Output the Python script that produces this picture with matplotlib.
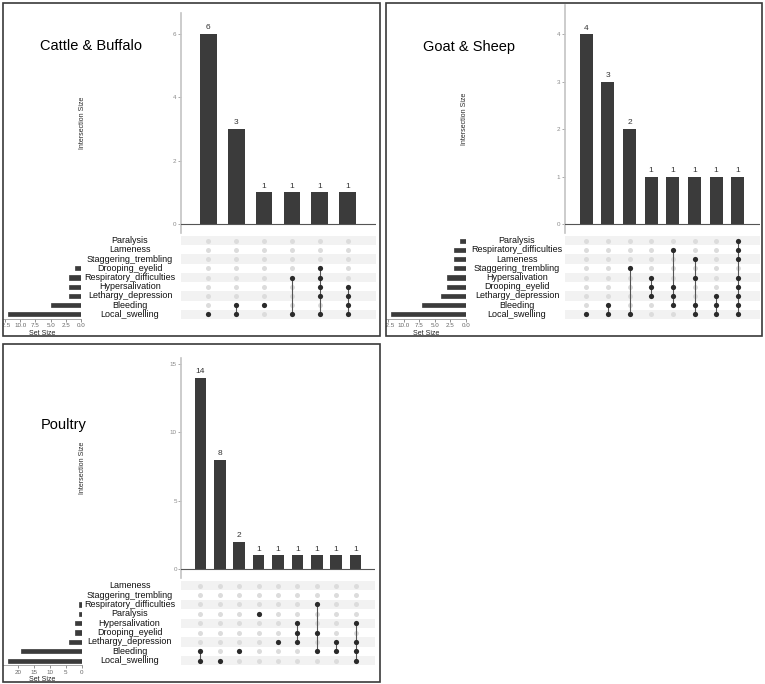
import matplotlib
matplotlib.use("Agg")
import matplotlib.pyplot as plt
from matplotlib.patches import Rectangle
from matplotlib.transforms import Bbox, TransformedBbox, blended_transform_factory

plt.rcParams["font.family"] = ["Liberation Sans", "DejaVu Sans"]

W, H = 765, 684

# ---- datos (conjuntos de arriba hacia abajo) ----
cattle_sets = ["Paralysis", "Lameness", "Staggering_trembling", "Drooping_eyelid",
               "Respiratory_difficulties", "Hypersalivation", "Lethargy_depression",
               "Bleeding", "Local_swelling"]
cattle_set_sizes = [0, 0, 0, 1, 2, 2, 2, 5, 12]
cattle_inter = [6, 3, 1, 1, 1, 1]
cattle_members = [
    ["Local_swelling"],
    ["Bleeding", "Local_swelling"],
    ["Bleeding"],
    ["Respiratory_difficulties", "Local_swelling"],
    ["Drooping_eyelid", "Respiratory_difficulties", "Hypersalivation",
     "Lethargy_depression", "Local_swelling"],
    ["Hypersalivation", "Lethargy_depression", "Bleeding", "Local_swelling"],
]

goat_sets = ["Paralysis", "Respiratory_difficulties", "Lameness", "Staggering_trembling",
             "Hypersalivation", "Drooping_eyelid", "Lethargy_depression",
             "Bleeding", "Local_swelling"]
goat_set_sizes = [1, 2, 2, 2, 3, 3, 4, 7, 12]
goat_inter = [4, 3, 2, 1, 1, 1, 1, 1]
goat_members = [
    ["Local_swelling"],
    ["Bleeding", "Local_swelling"],
    ["Staggering_trembling", "Local_swelling"],
    ["Hypersalivation", "Drooping_eyelid", "Lethargy_depression"],
    ["Respiratory_difficulties", "Drooping_eyelid", "Lethargy_depression", "Bleeding"],
    ["Lameness", "Hypersalivation", "Bleeding", "Local_swelling"],
    ["Lethargy_depression", "Bleeding", "Local_swelling"],
    ["Paralysis", "Respiratory_difficulties", "Lameness", "Hypersalivation",
     "Drooping_eyelid", "Lethargy_depression", "Bleeding", "Local_swelling"],
]

poultry_sets = ["Lameness", "Staggering_trembling", "Respiratory_difficulties", "Paralysis",
                "Hypersalivation", "Drooping_eyelid", "Lethargy_depression",
                "Bleeding", "Local_swelling"]
poultry_set_sizes = [0, 0, 1, 1, 2, 2, 4, 19, 23]
poultry_inter = [14, 8, 2, 1, 1, 1, 1, 1, 1]
poultry_members = [
    ["Bleeding", "Local_swelling"],
    ["Local_swelling"],
    ["Bleeding"],
    ["Paralysis"],
    ["Lethargy_depression"],
    ["Hypersalivation", "Drooping_eyelid", "Lethargy_depression"],
    ["Respiratory_difficulties", "Drooping_eyelid", "Bleeding"],
    ["Lethargy_depression", "Bleeding"],
    ["Hypersalivation", "Lethargy_depression", "Bleeding", "Local_swelling"],
]

cattle_yticks = [0, 2, 4, 6]
goat_yticks = [0, 1, 2, 3, 4]
poultry_yticks = [0, 5, 10, 15]
cattle_sizeticks = [0, 2.5, 5, 7.5, 10, 12.5]
goat_sizeticks = [0, 2.5, 5, 7.5, 10, 12.5]
poultry_sizeticks = [0, 5, 10, 15, 20]

OSCURO = "#3b3b3b"


def ax_px(fig, x0, y0, x1, y1):
    return fig.add_axes([x0 / W, 1 - y1 / H, (x1 - x0) / W, (y1 - y0) / H])


def dibujar_upset(fig, titulo, sets, set_sizes, inter, members, yticks, sizeticks, lay):
    bx0, by0, bx1, by1 = lay["box"]
    n = len(inter)
    ns = len(sets)

    # marco
    fig.add_artist(Rectangle((bx0 / W, 1 - by1 / H), (bx1 - bx0) / W, (by1 - by0) / H,
                             transform=fig.transFigure, fill=False,
                             edgecolor="#3a3a3a", linewidth=1.2))
    fig.text(lay["title"][0] / W, 1 - lay["title"][1] / H, titulo,
             fontsize=10.5, ha="center", va="center")

    # barras de interseccion
    ax0, ay0, ax1, ay1 = lay["bars"]
    ab = ax_px(fig, ax0, ay0, ax1, ay1)
    xs = list(range(n))
    ab.bar(xs, inter, width=0.6, color=OSCURO, zorder=2)
    for x, v in zip(xs, inter):
        ab.annotate(str(v), (x, v), xytext=(0, 2), textcoords="offset points",
                    ha="center", va="bottom", fontsize=6, color="#333333")
    ab.axhline(0, color="#555555", linewidth=0.8, zorder=3)
    ab.set_xlim(-1, n)
    ab.set_ylim(*lay["ylim"])
    ab.set_xticks([])
    ab.set_yticks(yticks)
    for s in ["top", "right", "bottom"]:
        ab.spines[s].set_visible(False)
    ab.spines["left"].set_color("#c4c4c4")
    ab.spines["left"].set_linewidth(1.2)
    ab.tick_params(axis="y", labelsize=4.5, colors="#8a8a8a", length=2, width=0.5, pad=1)
    fig.text(lay["ylab_x"] / W, 1 - (ay0 + ay1) / 2 / H, "Intersection Size",
             rotation=90, fontsize=5, ha="center", va="center", color="#2a2a2a")

    # matriz
    my0, my1 = lay["mat_y"]
    am = ax_px(fig, ax0, my0, ax1, my1)
    am.set_xlim(-1, n)
    am.set_ylim(ns - 0.5, -0.5)
    am.axis("off")
    for i in range(0, ns, 2):
        am.axhspan(i - 0.5, i + 0.5, color="#f2f2f2", zorder=0, linewidth=0)
    gx = [x for x in range(n) for _ in range(ns)]
    gy = [y for _ in range(n) for y in range(ns)]
    am.scatter(gx, gy, s=13, color="#dcdcdc", linewidths=0, zorder=1)
    for x, m in enumerate(members):
        filas = [sets.index(k) for k in m]
        if len(filas) > 1:
            am.plot([x, x], [min(filas), max(filas)], color="#555555",
                    linewidth=0.8, zorder=2)
        am.scatter([x] * len(filas), filas, s=14, color="#2a2a2a", linewidths=0, zorder=3)

    # nombres de conjuntos
    tr = blended_transform_factory(fig.transFigure, am.transData)
    for i, nombre in enumerate(sets):
        am.text(lay["names_x"] / W, i, nombre, transform=tr, ha="center", va="center",
                fontsize=6.5, color="#111111", clip_on=False)

    # tamanos de conjuntos
    sx0, sx1 = lay["size_x"]
    asz = ax_px(fig, sx0, my0, sx1, my1)
    asz.barh(range(ns), set_sizes, height=0.45, color=OSCURO,
             edgecolor=OSCURO, linewidth=0.5)
    for i, v in enumerate(set_sizes):
        if v == 0:
            asz.plot([v, v], [i - 0.22, i + 0.22], color="#8a8a8a", linewidth=0.6)
    asz.set_ylim(ns - 0.5, -0.5)
    asz.set_xlim(max(set_sizes) * 1.07, 0)
    asz.set_yticks([])
    asz.set_xticks(sizeticks)
    if all(float(t).is_integer() for t in sizeticks):
        asz.set_xticklabels([str(int(t)) for t in sizeticks])
    else:
        asz.set_xticklabels([f"{t:.1f}" for t in sizeticks])
    for s in ["top", "right", "left"]:
        asz.spines[s].set_visible(False)
    asz.spines["bottom"].set_color("#9a9a9a")
    asz.spines["bottom"].set_linewidth(0.6)
    asz.tick_params(axis="x", labelsize=4.5, colors="#666666", length=2, width=0.5, pad=1)
    asz.set_xlabel("Set Size", fontsize=5, labelpad=1, color="#222222")
    caja = TransformedBbox(Bbox.from_extents(bx0 / W, 1 - by1 / H, bx1 / W, 1 - by0 / H),
                           fig.transFigure)
    for lbl in asz.get_xticklabels():
        lbl.set_clip_box(caja)
        lbl.set_clip_on(True)


fig = plt.figure(figsize=(W / 100, H / 100), dpi=100)

layouts = [
    dict(box=(3, 3, 380, 336), bars=(180.5, 13, 375.5, 233), ylim=(-0.28, 6.66),
         mat_y=(236, 319), size_x=(3, 81), names_x=130, title=(91, 46), ylab_x=83),
    dict(box=(386, 3, 762, 336), bars=(564.5, 5, 759.5, 233), ylim=(-0.19, 4.62),
         mat_y=(236, 319), size_x=(386, 466), names_x=517, title=(469, 47), ylab_x=465),
    dict(box=(3, 344, 380, 682), bars=(181, 358, 375, 578), ylim=(-0.66, 15.43),
         mat_y=(581, 665.4), size_x=(3, 81.7), names_x=129.5, title=(64, 425), ylab_x=83),
]

dibujar_upset(fig, "Cattle & Buffalo", cattle_sets, cattle_set_sizes, cattle_inter,
              cattle_members, cattle_yticks, cattle_sizeticks, layouts[0])
dibujar_upset(fig, "Goat & Sheep", goat_sets, goat_set_sizes, goat_inter,
              goat_members, goat_yticks, goat_sizeticks, layouts[1])
dibujar_upset(fig, "Poultry", poultry_sets, poultry_set_sizes, poultry_inter,
              poultry_members, poultry_yticks, poultry_sizeticks, layouts[2])

fig.savefig("out.png", dpi=100)
